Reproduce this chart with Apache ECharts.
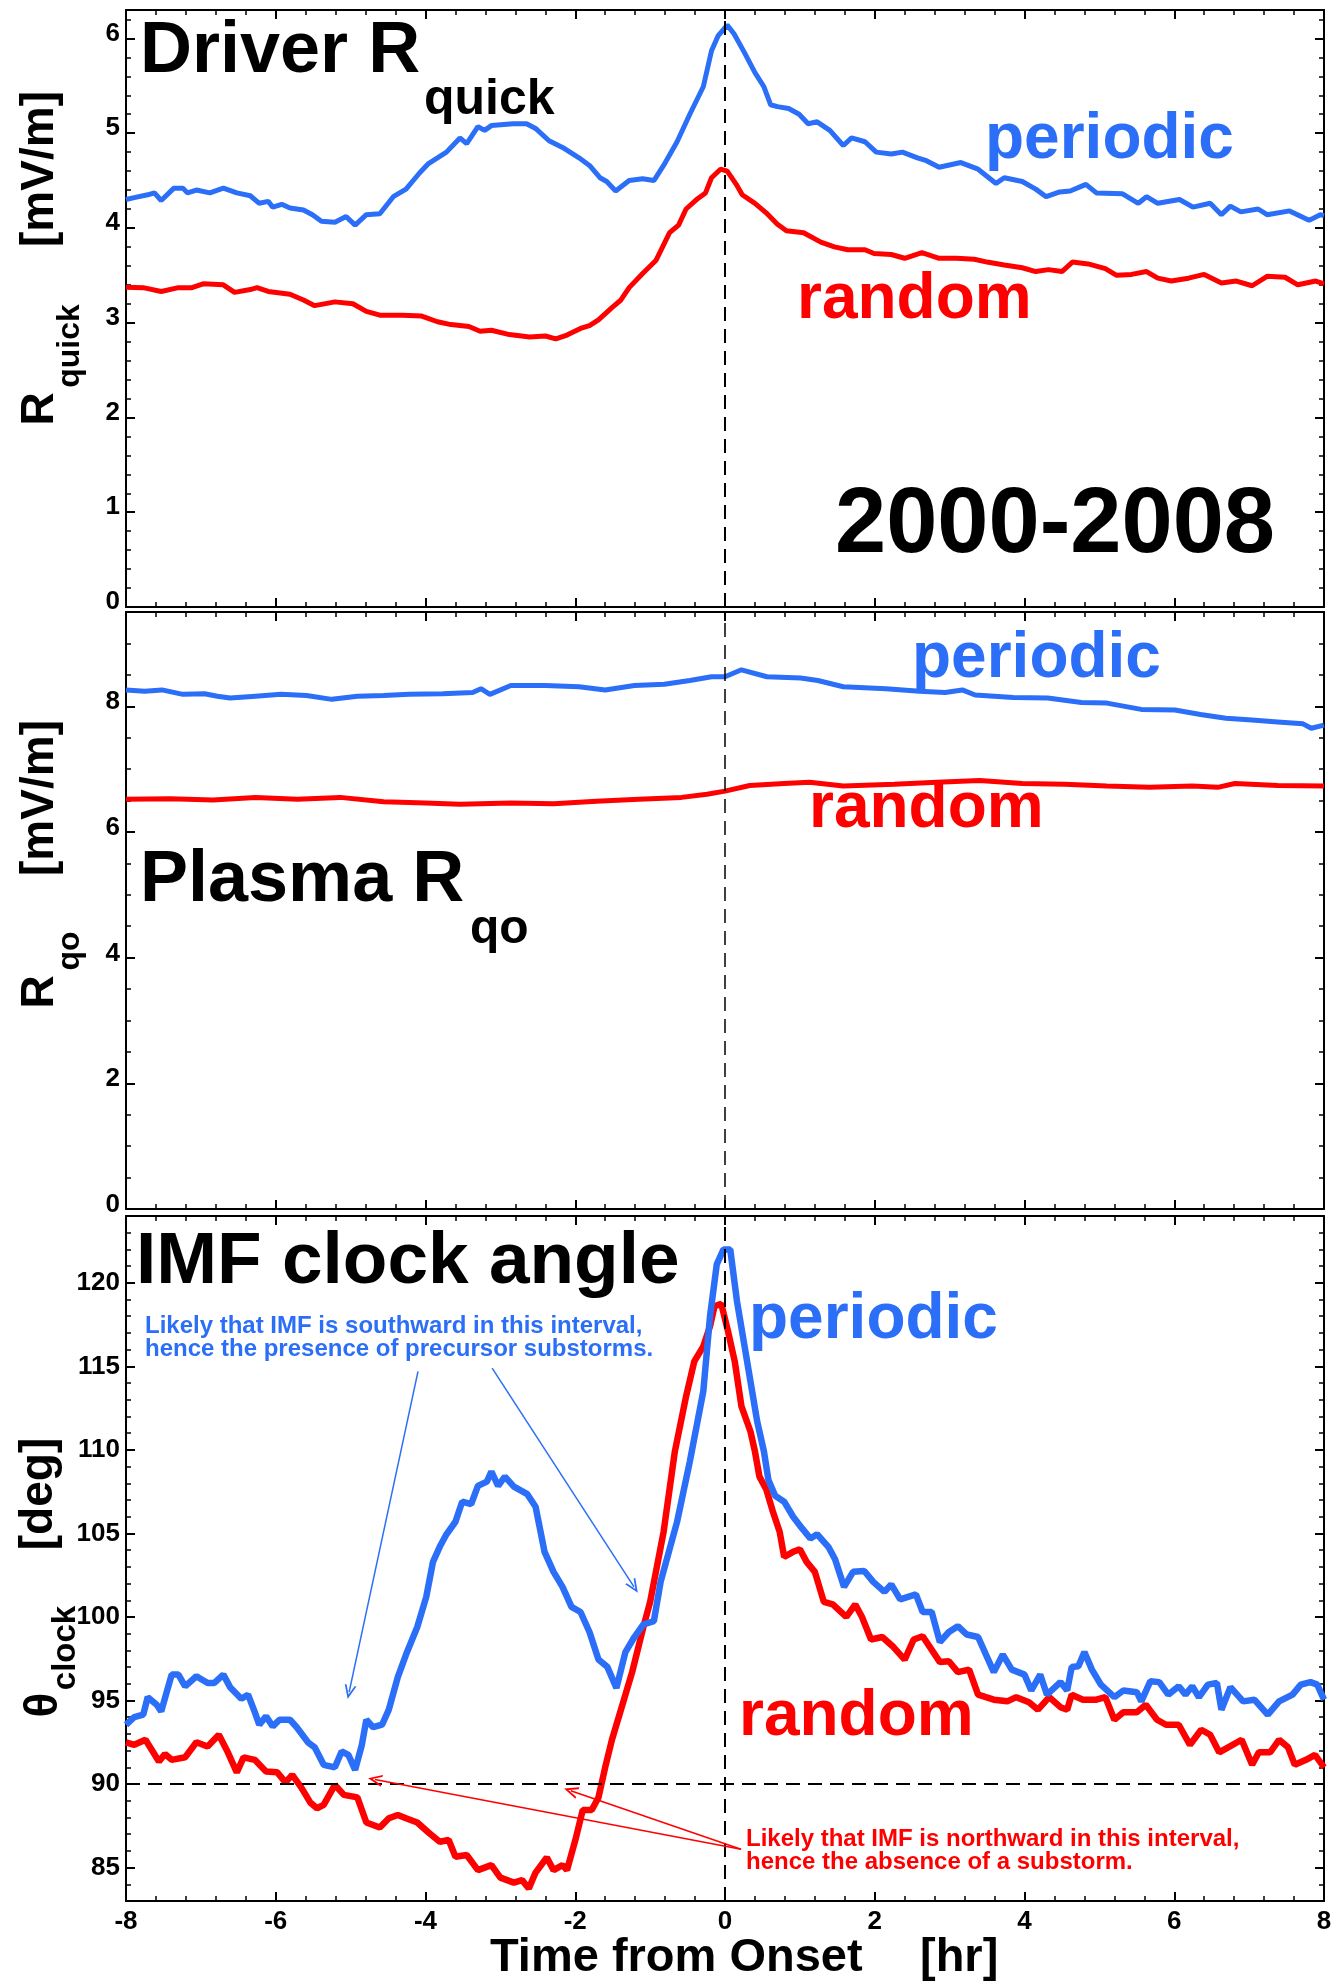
<!DOCTYPE html>
<html>
<head>
<meta charset="utf-8">
<title>Driver / Plasma / IMF clock angle</title>
<script src="https://cdn.jsdelivr.net/npm/echarts@6.0.0/dist/echarts.min.js"></script>
<style>
  html, body { margin: 0; padding: 0; background: #fff; }
  #chart { width: 1336px; height: 1987px; }
</style>
</head>
<body>
<div id="chart"></div>
<script>
const BLUE = '#2b6ef7';
const RED = '#ff0000';
const FONT = '"Liberation Sans", Arial, Helvetica, sans-serif';

// time ticks [hr]
const timeTicks = [-8, -6, -4, -2, 0, 2, 4, 6, 8];

// panel 1: Driver R_quick [mV/m]
const p1Major = [0, 1, 2, 3, 4, 5, 6];
const p1Periodic = [
    [-8, 4.30], [-7.89, 4.32], [-7.71, 4.35], [-7.62, 4.37], [-7.53, 4.29], [-7.36, 4.42], [-7.24, 4.42], [-7.18, 4.37],
    [-7.06, 4.40], [-6.88, 4.37], [-6.70, 4.42], [-6.52, 4.37], [-6.34, 4.34], [-6.22, 4.26], [-6.10, 4.28], [-6.04, 4.22],
    [-5.92, 4.25], [-5.81, 4.21], [-5.63, 4.19], [-5.51, 4.14], [-5.39, 4.07], [-5.21, 4.06], [-5.06, 4.12], [-4.94, 4.03],
    [-4.79, 4.14], [-4.61, 4.15], [-4.43, 4.33], [-4.26, 4.41], [-4.08, 4.58], [-3.96, 4.68], [-3.72, 4.80], [-3.54, 4.95],
    [-3.45, 4.89], [-3.30, 5.07], [-3.21, 5.03], [-3.12, 5.08], [-2.83, 5.10], [-2.65, 5.10], [-2.53, 5.05], [-2.35, 4.92],
    [-2.17, 4.85], [-1.95, 4.74], [-1.81, 4.66], [-1.67, 4.53], [-1.58, 4.49], [-1.46, 4.39], [-1.28, 4.50], [-1.10, 4.52],
    [-0.95, 4.50], [-0.82, 4.66], [-0.64, 4.91], [-0.47, 5.20], [-0.29, 5.49], [-0.18, 5.87], [-0.09, 6.03], [0.03, 6.14],
    [0.12, 6.05], [0.26, 5.85], [0.40, 5.64], [0.52, 5.49], [0.61, 5.30], [0.70, 5.28], [0.85, 5.26], [0.99, 5.20],
    [1.11, 5.10], [1.23, 5.12], [1.40, 5.03], [1.58, 4.87], [1.69, 4.95], [1.87, 4.91], [2.02, 4.80], [2.22, 4.78],
    [2.37, 4.80], [2.57, 4.74], [2.69, 4.71], [2.86, 4.64], [3.15, 4.69], [3.38, 4.62], [3.62, 4.47], [3.73, 4.53],
    [3.97, 4.49], [4.15, 4.41], [4.29, 4.33], [4.47, 4.38], [4.61, 4.39], [4.82, 4.46], [4.96, 4.37], [5.31, 4.36],
    [5.52, 4.26], [5.63, 4.33], [5.78, 4.26], [6.07, 4.30], [6.25, 4.22], [6.48, 4.26], [6.63, 4.14], [6.75, 4.23],
    [6.89, 4.17], [7.12, 4.20], [7.24, 4.14], [7.54, 4.18], [7.80, 4.08], [7.95, 4.14], [8, 4.13]
];
const p1Random = [
    [-8, 3.375], [-7.77, 3.37], [-7.53, 3.33], [-7.30, 3.37], [-7.12, 3.37], [-6.97, 3.41], [-6.70, 3.40], [-6.55, 3.32],
    [-6.34, 3.35], [-6.25, 3.37], [-6.10, 3.33], [-5.81, 3.30], [-5.63, 3.24], [-5.48, 3.18], [-5.21, 3.22], [-4.97, 3.20],
    [-4.79, 3.12], [-4.61, 3.08], [-4.31, 3.08], [-4.05, 3.07], [-3.84, 3.01], [-3.66, 2.98], [-3.42, 2.96], [-3.27, 2.91],
    [-3.12, 2.92], [-2.88, 2.875], [-2.61, 2.85], [-2.40, 2.86], [-2.26, 2.83], [-2.11, 2.87], [-1.93, 2.94], [-1.81, 2.97],
    [-1.69, 3.03], [-1.51, 3.16], [-1.39, 3.24], [-1.28, 3.37], [-1.10, 3.52], [-0.92, 3.66], [-0.74, 3.95], [-0.62, 4.03],
    [-0.52, 4.20], [-0.38, 4.30], [-0.26, 4.37], [-0.18, 4.53], [-0.06, 4.62], [0.03, 4.60], [0.15, 4.46], [0.23, 4.35],
    [0.40, 4.26], [0.55, 4.16], [0.70, 4.04], [0.82, 3.97], [1.05, 3.95], [1.28, 3.85], [1.46, 3.80], [1.64, 3.77],
    [1.87, 3.77], [1.99, 3.73], [2.22, 3.72], [2.40, 3.68], [2.63, 3.74], [2.86, 3.68], [3.09, 3.68], [3.33, 3.67],
    [3.50, 3.64], [3.73, 3.61], [3.97, 3.58], [4.15, 3.54], [4.32, 3.56], [4.50, 3.54], [4.64, 3.64], [4.85, 3.62],
    [5.08, 3.57], [5.23, 3.50], [5.43, 3.51], [5.63, 3.54], [5.78, 3.47], [5.96, 3.44], [6.19, 3.47], [6.40, 3.51],
    [6.63, 3.42], [6.83, 3.44], [7.04, 3.39], [7.24, 3.49], [7.48, 3.48], [7.65, 3.40], [7.89, 3.44], [8, 3.41]
];

// panel 2: Plasma R_qo [mV/m]
const p2Major = [0, 2, 4, 6, 8];
const p2Periodic = [
    [-8, 8.26], [-7.75, 8.24], [-7.52, 8.26], [-7.24, 8.19], [-6.95, 8.20], [-6.78, 8.16], [-6.61, 8.13], [-6.27, 8.16],
    [-5.93, 8.19], [-5.59, 8.17], [-5.25, 8.11], [-4.91, 8.16], [-4.56, 8.17], [-4.22, 8.19], [-3.77, 8.20], [-3.37, 8.22],
    [-3.26, 8.28], [-3.14, 8.19], [-2.86, 8.33], [-2.40, 8.33], [-1.95, 8.31], [-1.60, 8.26], [-1.21, 8.33], [-0.81, 8.35],
    [-0.47, 8.41], [-0.18, 8.47], [0, 8.47], [0.22, 8.58], [0.56, 8.47], [1.01, 8.45], [1.24, 8.41], [1.58, 8.31],
    [2.15, 8.28], [2.60, 8.24], [2.94, 8.22], [3.17, 8.26], [3.34, 8.18], [3.85, 8.14], [4.31, 8.13], [4.76, 8.06],
    [5.10, 8.05], [5.56, 7.95], [6.01, 7.94], [6.35, 7.87], [6.69, 7.81], [7.04, 7.78], [7.38, 7.75], [7.72, 7.72],
    [7.83, 7.65], [8, 7.70]
];
const p2Random = [
    [-8, 6.52], [-7.41, 6.53], [-6.84, 6.51], [-6.27, 6.55], [-5.71, 6.52], [-5.14, 6.55], [-4.56, 6.48], [-4.00, 6.46],
    [-3.54, 6.44], [-2.86, 6.46], [-2.29, 6.45], [-1.72, 6.49], [-1.15, 6.52], [-0.58, 6.55], [-0.24, 6.60], [0, 6.65],
    [0.33, 6.74], [0.79, 6.77], [1.13, 6.79], [1.58, 6.73], [2.26, 6.76], [2.83, 6.79], [3.40, 6.82], [3.97, 6.77],
    [4.54, 6.76], [5.10, 6.73], [5.67, 6.71], [6.24, 6.73], [6.58, 6.71], [6.81, 6.77], [7.38, 6.74], [8, 6.73]
];

// panel 3: IMF clock angle theta_clock [deg]
const p3Major = [85, 90, 95, 100, 105, 110, 115, 120];
const p3Periodic = [
    [-8, 93.55], [-7.89, 94.0], [-7.77, 94.15], [-7.71, 95.2], [-7.59, 94.75], [-7.53, 94.35], [-7.39, 96.55], [-7.30, 96.55],
    [-7.21, 95.85], [-7.06, 96.45], [-6.91, 96.05], [-6.82, 96.05], [-6.70, 96.55], [-6.61, 95.8], [-6.46, 95.1], [-6.37, 95.35],
    [-6.28, 94.3], [-6.22, 93.55], [-6.13, 94.05], [-6.04, 93.45], [-5.95, 93.85], [-5.81, 93.85], [-5.72, 93.4], [-5.57, 92.5],
    [-5.48, 92.2], [-5.36, 91.15], [-5.21, 91.0], [-5.12, 91.95], [-5.03, 91.75], [-4.94, 90.85], [-4.85, 92.35], [-4.79, 93.85],
    [-4.70, 93.4], [-4.58, 93.55], [-4.49, 94.45], [-4.37, 96.4], [-4.26, 97.75], [-4.11, 99.4], [-3.99, 101.2], [-3.90, 103.3],
    [-3.81, 104.2], [-3.72, 104.95], [-3.60, 105.7], [-3.51, 106.9], [-3.39, 106.75], [-3.30, 107.85], [-3.18, 108.1], [-3.12, 108.7],
    [-3.03, 107.85], [-2.94, 108.4], [-2.82, 107.8], [-2.64, 107.35], [-2.53, 106.6], [-2.41, 103.9], [-2.29, 102.7], [-2.17, 101.8],
    [-2.05, 100.6], [-1.93, 100.3], [-1.81, 99.1], [-1.69, 97.45], [-1.57, 97.0], [-1.45, 95.75], [-1.33, 97.9], [-1.21, 98.8],
    [-1.09, 99.55], [-0.95, 99.75], [-0.86, 102.1], [-0.64, 105.7], [-0.47, 109.3], [-0.29, 113.5], [-0.20, 118.0], [-0.11, 121.1],
    [-0.02, 122.0], [0.07, 122.0], [0.16, 118.9], [0.25, 116.5], [0.34, 114.1], [0.43, 111.7], [0.52, 109.9], [0.58, 108.2],
    [0.67, 107.25], [0.79, 106.9], [0.91, 106.0], [1.03, 105.3], [1.14, 104.7], [1.23, 104.95], [1.38, 104.2], [1.47, 103.45],
    [1.59, 101.8], [1.71, 102.7], [1.86, 102.75], [1.98, 102.1], [2.13, 101.5], [2.22, 101.95], [2.34, 101.05], [2.55, 101.35],
    [2.64, 100.3], [2.76, 100.3], [2.87, 98.5], [2.99, 99.1], [3.11, 99.45], [3.23, 98.95], [3.38, 98.8], [3.59, 96.7],
    [3.71, 97.75], [3.83, 96.85], [4.0, 96.55], [4.09, 95.6], [4.21, 96.55], [4.30, 95.35], [4.48, 96.1], [4.57, 95.6],
    [4.63, 97.0], [4.72, 97.05], [4.80, 97.9], [4.90, 96.85], [5.02, 95.95], [5.20, 95.2], [5.32, 95.6], [5.50, 95.5],
    [5.56, 94.95], [5.68, 96.15], [5.80, 96.1], [5.92, 95.35], [6.06, 95.85], [6.15, 95.35], [6.24, 95.85], [6.33, 95.2],
    [6.45, 95.95], [6.57, 96.05], [6.63, 94.45], [6.75, 95.8], [6.92, 94.95], [7.07, 95.05], [7.25, 94.15], [7.40, 94.95],
    [7.58, 95.35], [7.69, 95.95], [7.82, 96.1], [7.91, 95.95], [8, 95.05]
];
const p3Random = [
    [-8, 92.5], [-7.89, 92.35], [-7.74, 92.65], [-7.56, 91.35], [-7.48, 91.8], [-7.39, 91.45], [-7.21, 91.6], [-7.06, 92.5],
    [-6.91, 92.25], [-6.76, 92.95], [-6.64, 91.9], [-6.52, 90.7], [-6.43, 91.6], [-6.28, 91.45], [-6.13, 90.75], [-5.98, 90.7],
    [-5.87, 90.1], [-5.78, 90.55], [-5.66, 89.8], [-5.54, 88.9], [-5.45, 88.55], [-5.36, 88.75], [-5.21, 89.95], [-5.09, 89.35],
    [-4.91, 89.2], [-4.79, 87.7], [-4.61, 87.4], [-4.49, 87.95], [-4.37, 88.15], [-4.26, 87.95], [-4.11, 87.7], [-3.96, 87.1],
    [-3.81, 86.55], [-3.69, 86.65], [-3.60, 85.65], [-3.45, 85.75], [-3.30, 84.85], [-3.12, 85.15], [-3.00, 84.4], [-2.82, 84.1],
    [-2.71, 84.25], [-2.62, 83.75], [-2.53, 84.7], [-2.38, 85.6], [-2.29, 84.85], [-2.17, 85.15], [-2.11, 84.85], [-1.99, 86.8],
    [-1.90, 88.45], [-1.78, 88.45], [-1.69, 89.2], [-1.60, 91.0], [-1.51, 92.65], [-1.39, 94.45], [-1.24, 96.7], [-1.09, 99.4],
    [-1.0, 100.9], [-0.82, 105.1], [-0.67, 109.9], [-0.52, 113.2], [-0.41, 115.3], [-0.29, 116.2], [-0.20, 117.4], [-0.14, 118.6],
    [-0.05, 118.75], [0.04, 117.1], [0.13, 115.3], [0.22, 112.6], [0.34, 111.1], [0.40, 109.9], [0.46, 108.4], [0.55, 107.65],
    [0.64, 106.3], [0.73, 105.1], [0.79, 103.6], [0.91, 103.9], [1.0, 104.05], [1.09, 103.3], [1.20, 102.7], [1.32, 100.9],
    [1.44, 100.75], [1.62, 100.0], [1.74, 100.75], [1.83, 100.0], [1.95, 98.65], [2.10, 98.8], [2.25, 98.2], [2.40, 97.45],
    [2.52, 98.65], [2.64, 98.85], [2.87, 97.3], [2.99, 97.35], [3.11, 96.7], [3.26, 96.85], [3.38, 95.35], [3.59, 95.05],
    [3.77, 94.95], [3.89, 95.2], [4.06, 94.9], [4.18, 94.45], [4.33, 95.2], [4.48, 94.6], [4.57, 94.45], [4.63, 95.35],
    [4.78, 95.05], [4.96, 95.05], [5.08, 95.2], [5.20, 93.85], [5.32, 94.3], [5.50, 94.3], [5.62, 94.75], [5.77, 93.85],
    [5.89, 93.55], [6.06, 93.55], [6.21, 92.35], [6.36, 93.25], [6.48, 92.95], [6.60, 91.9], [6.72, 92.2], [6.90, 92.65],
    [7.04, 91.15], [7.13, 91.9], [7.28, 91.9], [7.40, 92.65], [7.52, 92.2], [7.61, 91.15], [7.76, 91.45], [7.88, 91.75],
    [8, 91.0]
];

// annotation arrows in panel 3 data units: [from, to]
const blueArrows = [
    [[-4.10, 114.7], [-5.02, 95.5]],
    [[-3.11, 114.9], [-1.215, 101.8]]
];
const redArrows = [
    [[0.214, 86.1], [-4.675, 90.27]],
    [[0.214, 86.1], [-2.06, 89.6]]
];

function steps(a, b, d, skip) {
    const out = [];
    const n = Math.round((b - a) / d);
    for (let i = 0; i <= n; i++) {
        const v = Math.round((a + i * d) * 1000) / 1000;
        if (!skip.includes(v)) out.push(v);
    }
    return out;
}

const p1Minor = steps(0, 6.2, 0.2, p1Major);
const p2Minor = steps(0, 9.5, 0.5, p2Major);
const p3Minor = steps(83, 124, 1, p3Major);

const CHEVRON = 'path://M5,0L10,10L8.4,10L5,3.2L1.6,10L0,10Z';

const GRIDS = [
    { left: 126, right: 12, top: 10, height: 597 },
    { left: 126, right: 12, top: 612, height: 597 },
    { left: 126, right: 12, top: 1216, height: 685 }
];

const lineBlack = { color: '#000', width: 2 };
const labelFont = { color: '#000', fontSize: 26, fontWeight: 'bold', fontFamily: FONT };

function xAxes(grid, showLabels) {
    const base = {
        gridIndex: grid, type: 'value', min: -8, max: 8, interval: 2,
        splitLine: { show: false },
        axisLine: { show: true, onZero: false, lineStyle: lineBlack },
        axisTick: { show: true, inside: true, length: 9, lineStyle: lineBlack },
        minorTick: { show: true, splitNumber: 5, length: 5, lineStyle: { color: '#000', width: 1.5 } },
        minorSplitLine: { show: false }
    };
    return [
        Object.assign({}, base, { position: 'bottom',
            axisLabel: Object.assign({ show: showLabels, margin: 8 }, labelFont) }),
        Object.assign({}, base, { position: 'top', axisLabel: { show: false } })
    ];
}

// lift: the y labels of the upper two panels sit a little above their ticks
function yAxes(grid, min, max, major, minor, lift) {
    const base = { gridIndex: grid, type: 'value', min, max, splitLine: { show: false } };
    const shift = lift > 0 ? { verticalAlign: 'bottom', lineHeight: lift * 2 } : {};
    const majorAxis = (pos, lab) => Object.assign({}, base, {
        position: pos,
        axisLine: { show: true, onZero: false, lineStyle: lineBlack },
        axisTick: { show: true, inside: true, length: 9, customValues: major, lineStyle: lineBlack },
        axisLabel: Object.assign({ show: lab, customValues: major, margin: 6 }, labelFont, shift)
    });
    const minorAxis = (pos) => Object.assign({}, base, {
        position: pos,
        axisLine: { show: false, onZero: false },
        axisTick: { show: true, inside: true, length: 5, customValues: minor, lineStyle: { color: '#000', width: 1.5 } },
        axisLabel: { show: false }
    });
    return [majorAxis('left', true), minorAxis('left'), majorAxis('right', false), minorAxis('right')];
}

function guide(extra, w) {
    return {
        silent: true, animation: false, symbol: ['none', 'none'],
        label: { show: false },
        lineStyle: { color: '#000', type: [14, 8], width: w },
        data: extra
    };
}

function arrowItems(list, color) {
    return list.map(a => [
        { coord: a[0], lineStyle: { color: color, width: 1.5, type: 'solid' } },
        { coord: a[1], symbol: CHEVRON, symbolSize: [12, 14] }
    ]);
}

function curve(name, data, color, width, xi, yi, markLine) {
    return {
        name, type: 'line', data, xAxisIndex: xi, yAxisIndex: yi,
        symbol: 'none', showSymbol: false, silent: true, clip: true,
        lineStyle: { color, width }, itemStyle: { color },
        markLine
    };
}

// y is the glyph centre line; +0.07*size puts the baseline where the reference has it
function txt(x, y, s, size, color) {
    return {
        type: 'text', x, y: y + size * 0.07, silent: true,
        style: { text: s, fill: color, font: `bold ${size}px ${FONT}`, align: 'left', verticalAlign: 'middle' }
    };
}

function vtxt(x, y, s, size) {
    return {
        type: 'text', x: x + size * 0.07, y, rotation: Math.PI / 2, silent: true,
        style: { text: s, fill: '#000', font: `bold ${size}px ${FONT}`, align: 'center', verticalAlign: 'middle' }
    };
}

const chart = echarts.init(document.getElementById('chart'));

chart.setOption({
    animation: false,
    backgroundColor: '#fff',
    grid: GRIDS.map(g => Object.assign({ containLabel: false, outerBoundsMode: 'none' }, g)),
    xAxis: [].concat(xAxes(0, false), xAxes(1, false), xAxes(2, true)),
    yAxis: [].concat(
        yAxes(0, 0, 6.3, p1Major, p1Minor, 5),
        yAxes(1, 0, 9.5, p2Major, p2Minor, 4),
        yAxes(2, 83, 124, p3Major, p3Minor, 0)
    ),
    series: [
        curve('random', p1Random, RED, 5, 0, 0, guide([{ xAxis: 0 }], 2)),
        curve('periodic', p1Periodic, BLUE, 5, 0, 0),
        curve('random', p2Random, RED, 5, 2, 4, guide([{ xAxis: 0 }], 1.5)),
        curve('periodic', p2Periodic, BLUE, 5, 2, 4),
        curve('random', p3Random, RED, 6.5, 4, 8,
            guide([{ xAxis: 0 }, { yAxis: 90 }].concat(arrowItems(redArrows, RED)), 2)),
        curve('periodic', p3Periodic, BLUE, 6.5, 4, 8,
            guide(arrowItems(blueArrows, BLUE), 1.5))
    ],
    graphic: [
        // panel 1
        txt(140, 47, 'Driver R', 72, '#000'),
        txt(424, 97, 'quick', 50, '#000'),
        txt(985, 136, 'periodic', 64, BLUE),
        txt(797, 296, 'random', 64, RED),
        txt(835, 520, '2000-2008', 92, '#000'),
        vtxt(37, 409, 'R', 46),
        vtxt(68, 346, 'quick', 32),
        vtxt(37, 169, '[mV/m]', 46),
        // panel 2
        txt(912, 655, 'periodic', 64, BLUE),
        txt(809, 805, 'random', 64, RED),
        txt(140, 876, 'Plasma R', 72, '#000'),
        txt(470, 926, 'qo', 48, '#000'),
        vtxt(37, 992, 'R', 46),
        vtxt(68, 951, 'qo', 32),
        vtxt(37, 798, '[mV/m]', 46),
        // panel 3
        txt(136, 1258, 'IMF clock angle', 73, '#000'),
        txt(749, 1316, 'periodic', 64, BLUE),
        txt(739, 1713, 'random', 64, RED),
        txt(145, 1325, 'Likely that IMF is southward in this interval,', 24, BLUE),
        txt(145, 1348, 'hence the presence of precursor substorms.', 24, BLUE),
        txt(746, 1838, 'Likely that IMF is northward in this interval,', 24, RED),
        txt(746, 1861, 'hence the absence of a substorm.', 24, RED),
        vtxt(41, 1705, '\u03b8', 46),
        vtxt(64, 1648, 'clock', 33),
        vtxt(36, 1494, '[deg]', 46),
        // time axis title
        txt(490, 1955, 'Time from Onset', 47, '#000'),
        txt(920, 1955, '[hr]', 47, '#000')
    ]
});
</script>
</body>
</html>
